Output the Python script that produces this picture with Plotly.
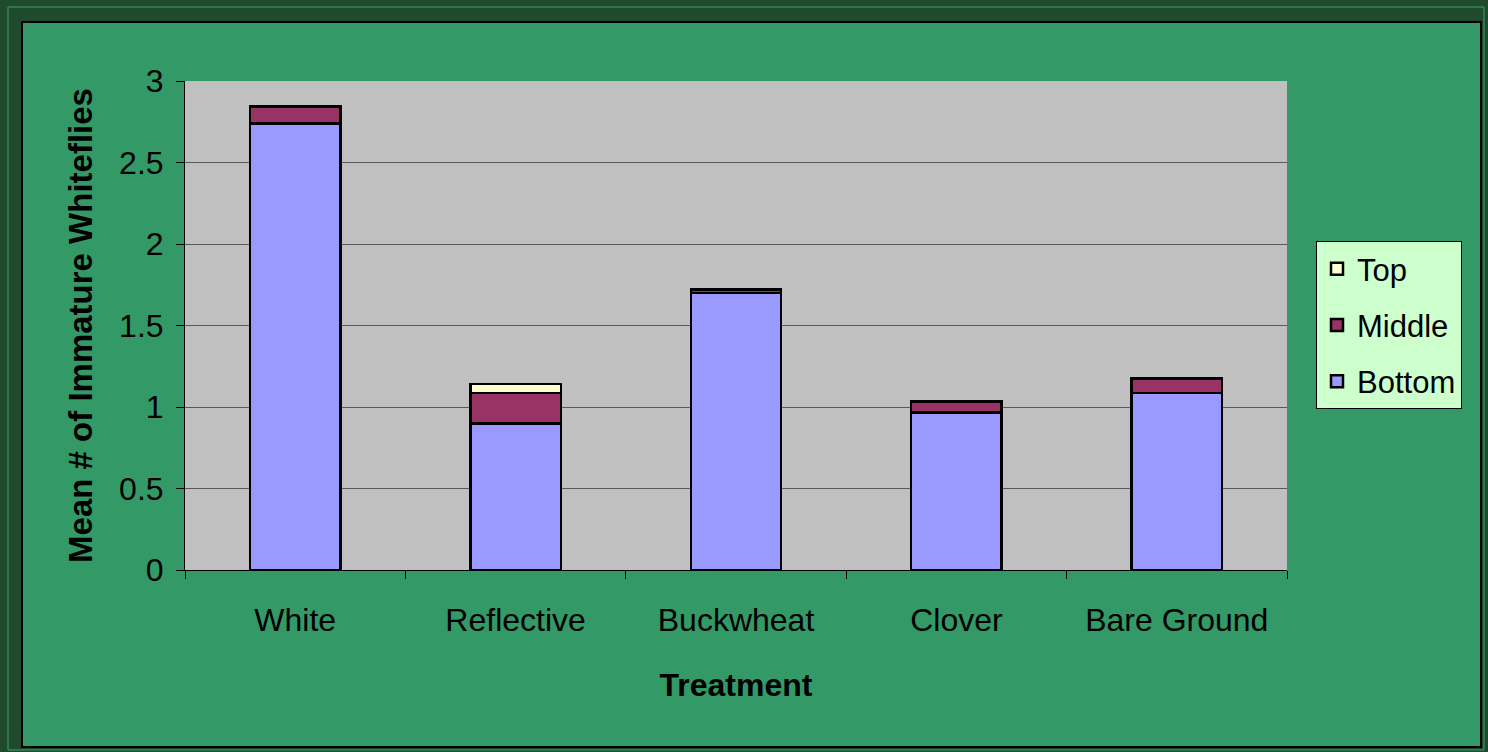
import plotly.graph_objects as go

categories = ["White", "Reflective", "Buckwheat", "Clover", "Bare Ground"]
bottom = [2.74, 0.90, 1.70, 0.965, 1.085]
middle = [0.105, 0.185, 0.02, 0.07, 0.09]
top = [0.0, 0.055, 0.0, 0.0, 0.0]
y_ticks = [0, 0.5, 1, 1.5, 2, 2.5, 3]
y_labels = ["0", "0.5", "1", "1.5", "2", "2.5", "3"]

font = "Liberation Sans, Arial, sans-serif"
fig = go.Figure()
for rank, (name, vals, col) in zip([3, 2, 1], [("Bottom", bottom, "#9999FF"), ("Middle", middle, "#993366"), ("Top", top, "#FFFFCC")]):
    fig.add_trace(go.Bar(x=categories, y=vals, name=name, legendgroup=name, legendrank=rank,
                         marker=dict(color=col, line=dict(color="black", width=2.5))))

PW, PH, L, B = 1102, 489, 185, 570
def px(x):
    return (x - L) / PW
def py(y):
    return (B - y) / PH

fig.update_layout(
    barmode="stack",
    bargap=0.59,
    width=1488, height=752,
    margin=dict(l=185, r=201, t=81, b=182),
    paper_bgcolor="#339966",
    plot_bgcolor="#C0C0C0",
    font=dict(family=font, size=32, color="black"),
    legend=dict(x=px(1316), y=py(241), xanchor="left", yanchor="top", traceorder="grouped",
                bgcolor="#CCFFCC", bordercolor="black", borderwidth=1,
                font=dict(size=31), tracegroupgap=13),
    showlegend=True,
)
fig.update_xaxes(showline=True, linecolor="black", linewidth=1, ticks="outside", tickson="boundaries",
                 ticklen=8, tickcolor="black", tickfont=dict(size=32), ticklabelstandoff=22,
                 title=dict(text="<b>Treatment</b>", font=dict(size=32), standoff=36))
fig.update_yaxes(range=[0, 3], tickvals=y_ticks, ticktext=y_labels, showline=True, linecolor="black",
                 linewidth=1, ticks="outside", ticklen=8, tickcolor="black", gridcolor="#5a5a5a",
                 gridwidth=1, zeroline=False, tickfont=dict(size=32), ticklabelstandoff=6,
                 title=dict(text="<b>Mean # of Immature Whiteflies</b>", font=dict(size=33), standoff=16))

dark = "#1f4a2c"
# outer textured frame (approximated by solid dark green)
for (x0, y0, x1, y1) in [(0, 0, 1488, 22), (0, 0, 22, 752), (1481, 0, 1488, 752), (0, 747, 1488, 752)]:
    fig.add_shape(type="rect", xref="paper", yref="paper", layer="above",
                  x0=px(x0), x1=px(x1), y0=py(y1), y1=py(y0),
                  fillcolor=dark, line=dict(width=0))
fig.add_shape(type="rect", xref="paper", yref="paper", layer="above",
              x0=px(22), x1=px(1481), y0=py(747), y1=py(22),
              fillcolor="rgba(0,0,0,0)", line=dict(color="black", width=2))
fig.add_shape(type="rect", xref="paper", yref="paper", layer="above",
              x0=px(8), x1=px(1484), y0=py(750), y1=py(7),
              fillcolor="rgba(0,0,0,0)", line=dict(color="#3fa06a", width=1))

fig.write_html("out.html")
